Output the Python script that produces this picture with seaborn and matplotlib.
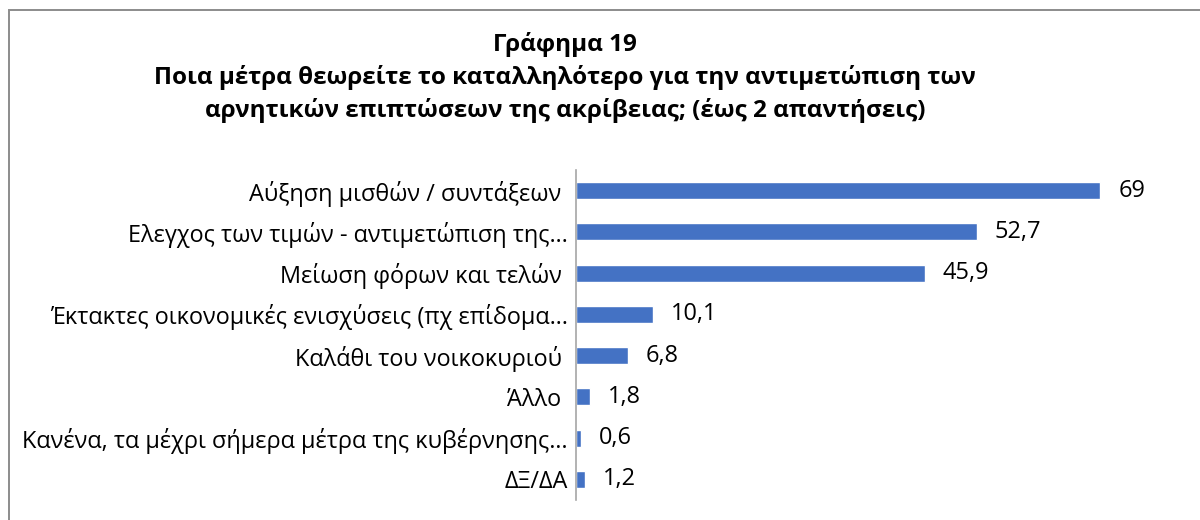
import matplotlib
matplotlib.use("Agg")
import matplotlib.pyplot as plt
import seaborn as sns
import pandas as pd
from matplotlib.patches import Rectangle

categories = [
    "Αύξηση μισθών / συντάξεων ",
    "Ελεγχος των τιμών - αντιμετώπιση της…",
    "Μείωση φόρων και τελών ",
    "Έκτακτες οικονομικές ενισχύσεις (πχ επίδομα…",
    "Καλάθι του νοικοκυριού ",
    "Άλλο ",
    "Κανένα, τα μέχρι σήμερα μέτρα της κυβέρνησης…",
    "ΔΞ/ΔΑ",
]
values = [69, 52.7, 45.9, 10.1, 6.8, 1.8, 0.6, 1.2]
title_lines = [
    "Γράφημα 19",
    "Ποια μέτρα θεωρείτε το καταλληλότερο για την αντιμετώπιση των",
    "αρνητικών επιπτώσεων της ακρίβειας; (έως 2 απαντήσεις)",
]

sns.set_theme(style="white")
plt.rcParams["font.family"] = ["Open Sans", "DejaVu Sans"]

df = pd.DataFrame({"cat": categories, "val": values})

W, H = 1200, 520
fig = plt.figure(figsize=(W / 100, H / 100), dpi=100)
fig.patch.set_facecolor("white")

ax = fig.add_axes([576 / W, 20 / H, (1184 - 576) / W, 330 / H])
sns.barplot(data=df, x="val", y="cat", color="#4472C4", width=0.41,
            saturation=1, ax=ax, orient="h")

ax.set_xlim(0, 80)
ax.set_ylim(len(categories) - 0.5, -0.5)
ax.set_xlabel("")
ax.set_ylabel("")
ax.xaxis.set_visible(False)
for s in ["top", "right", "bottom"]:
    ax.spines[s].set_visible(False)
ax.spines["left"].set_color("#A6A6A6")
ax.spines["left"].set_linewidth(1.2)

ax.set_yticks(range(len(categories)))
ax.set_yticklabels(categories, fontsize=16.9, color="black")
ax.tick_params(axis="y", which="major", length=0, pad=6)
ax.set_yticks([i - 0.5 for i in range(len(categories) + 1)], minor=True)
ax.tick_params(axis="y", which="minor", length=6, width=1.2, color="#A6A6A6")

labels = [f"{v:g}".replace(".", ",") for v in values]
ax.bar_label(ax.containers[0], labels=labels, padding=13, fontsize=16.9, color="black")

fig.text(565 / W, 1 - 32 / H, "\n".join(title_lines), ha="center", va="top",
         fontsize=17.5, fontweight="bold", linespacing=1.43, color="black")

fig.patches.append(Rectangle((8.5 / W, -0.1), 1.2, (H - 9.5) / H + 0.1,
                             transform=fig.transFigure, fill=False,
                             edgecolor="#8C8C8C", linewidth=1.4))

fig.savefig("out.png", dpi=100, facecolor="white")
